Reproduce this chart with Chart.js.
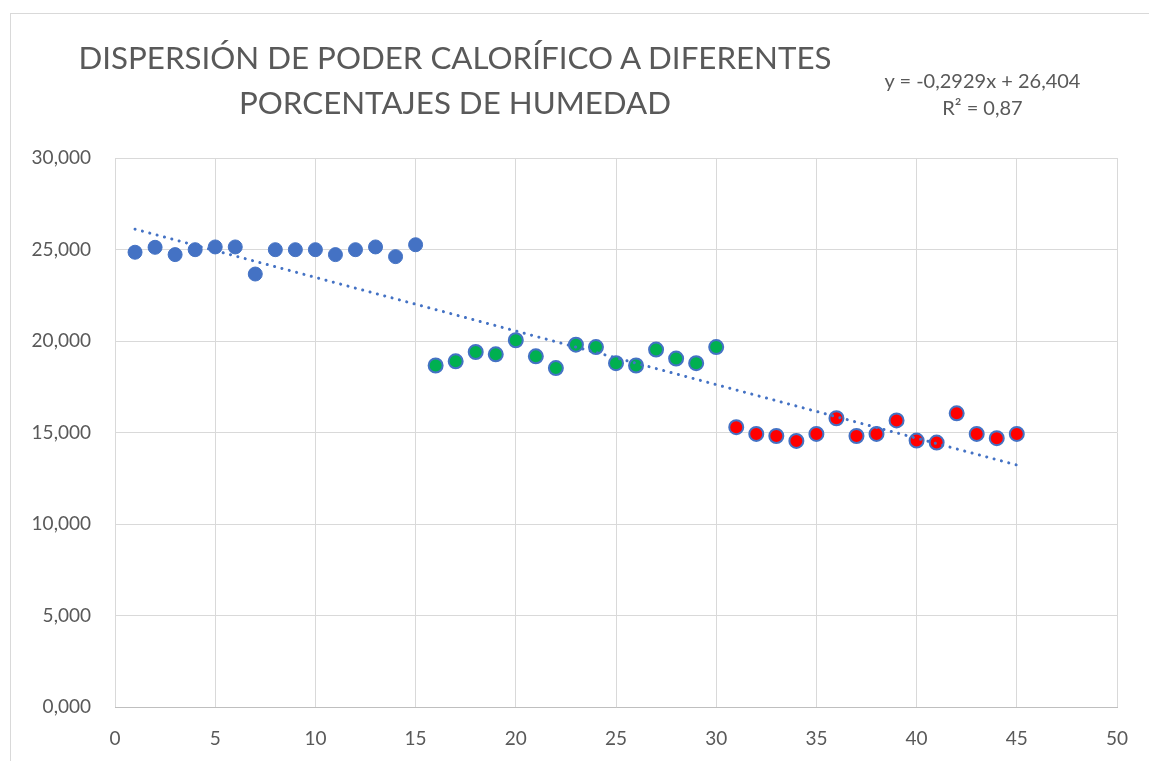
<!DOCTYPE html>
<html>
<head>
<meta charset="utf-8">
<script src="https://cdn.jsdelivr.net/npm/chart.js@4"></script>
<style>
  body { margin: 0; background: #fff; }
  #wrap { position: relative; width: 1149px; height: 761px; overflow: hidden; }
  #frame { position: absolute; left: 10px; top: 13px; width: 1150px; height: 800px; border: 1px solid #d9d9d9; }
  canvas { position: absolute; left: 0; top: 0; }
  .txt { position: absolute; color: #595959; font-family: Lato, sans-serif; text-align: center; white-space: nowrap; }
  #title { left: 55px; width: 800px; top: 35px; font-size: 31.3px; line-height: 45px; }
  #eq { left: 880px; width: 205px; top: 67px; font-size: 20px; line-height: 27px; }
</style>
</head>
<body>
<div id="wrap">
  <div id="frame"></div>
  <canvas id="myChart" width="1149" height="761"></canvas>
  <div id="title" class="txt">DISPERSIÓN DE PODER CALORÍFICO A DIFERENTES<br>PORCENTAJES DE HUMEDAD</div>
  <div id="eq" class="txt">y = -0,2929x + 26,404<br>R² = 0,87</div>
</div>
<script>
// poder calorifico por muestra
const muestrasA = [1,2,3,4,5,6,7,8,9,10,11,12,13,14,15];
const valoresA = [24.85,25.12,24.72,24.99,25.14,25.14,23.66,24.99,24.99,24.99,24.72,24.99,25.14,24.61,25.26];

const muestrasB = [16,17,18,19,20,21,22,23,24,25,26,27,28,29,30];
const valoresB = [18.66,18.89,19.40,19.27,20.04,19.16,18.52,19.80,19.67,18.79,18.66,19.53,19.04,18.79,19.67];

const muestrasC = [31,32,33,34,35,36,37,38,39,40,41,42,43,44,45];
const valoresC = [15.29,14.92,14.81,14.54,14.92,15.78,14.81,14.92,15.66,14.56,14.45,16.05,14.92,14.69,14.92];

// linea de tendencia: y = -0,2929x + 26,404
const pendiente = -0.2929;
const intercepto = 26.404;
const tendenciaX = [1, 45];

const xTicks = [0,5,10,15,20,25,30,35,40,45,50];
const yTicks = [0,5,10,15,20,25,30];

const puntos = (xs, ys) => xs.map((x, i) => ({x: x, y: ys[i]}));

var ctx = document.getElementById('myChart').getContext('2d');

var myChart = new Chart(ctx, {
    type: 'scatter',
    data: {
        datasets: [{
            type: 'line',
            label: 'Tendencia',
            data: tendenciaX.map((x) => ({x: x, y: pendiente * x + intercepto})),
            borderColor: '#4472C4',
            borderWidth: 3,
            borderDash: [0.1, 7.5],
            borderCapStyle: 'round',
            pointRadius: 0,
            fill: false,
            order: -1
        }, {
            label: 'A',
            data: puntos(muestrasA, valoresA),
            backgroundColor: '#4472C4',
            borderColor: '#4472C4',
            borderWidth: 1,
            pointRadius: 7
        }, {
            label: 'B',
            data: puntos(muestrasB, valoresB),
            backgroundColor: '#00B050',
            borderColor: '#4472C4',
            borderWidth: 2,
            pointRadius: 7
        }, {
            label: 'C',
            data: puntos(muestrasC, valoresC),
            backgroundColor: '#FF0000',
            borderColor: '#4472C4',
            borderWidth: 2,
            pointRadius: 7
        }]
    },
    options: {
        responsive: false,
        animation: false,
        layout: { padding: { top: 158, right: 32, left: 0, bottom: 0 } },
        plugins: {
            legend: { display: false },
            tooltip: { enabled: false }
        },
        scales: {
            x: {
                type: 'linear',
                min: 0,
                max: 50,
                afterBuildTicks: (scale) => { scale.ticks = xTicks.map((v) => ({value: v})); },
                afterFit: (scale) => { scale.height = 54; },
                grid: { color: '#d9d9d9', drawTicks: false },
                border: { color: '#bfbfbf', width: 1 },
                ticks: { color: '#595959', font: { family: 'Lato', size: 19 }, padding: 20 }
            },
            y: {
                min: 0,
                max: 30,
                afterBuildTicks: (scale) => { scale.ticks = yTicks.map((v) => ({value: v})); },
                afterFit: (scale) => { scale.width = 115; },
                grid: { color: '#d9d9d9', drawTicks: false },
                border: { display: false },
                ticks: {
                    color: '#595959',
                    font: { family: 'Lato', size: 19 },
                    padding: 24,
                    callback: (v) => v.toFixed(3).replace('.', ',')
                }
            }
        }
    }
});
</script>
</body>
</html>
